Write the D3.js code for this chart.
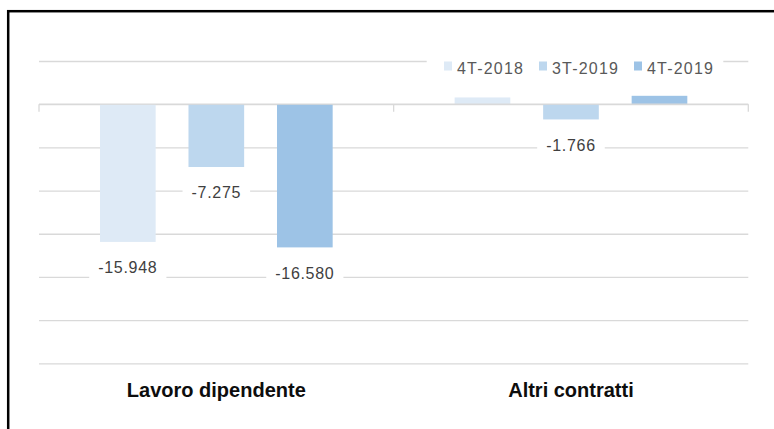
<!DOCTYPE html>
<html><head><meta charset="utf-8">
<script src="https://cdn.jsdelivr.net/npm/d3@7"></script>
<style>body{margin:0;background:#fff}svg{display:block;font-family:"Liberation Sans",Arial,sans-serif}</style>
</head><body>
<svg id="c" width="774" height="429"></svg>
<script>
const categories = ["Lavoro dipendente", "Altri contratti"];
const seriesNames = ["4T-2018", "3T-2019", "4T-2019"];
const values = {
  "4T-2018": [-15948, 780],
  "3T-2019": [-7275, -1766],
  "4T-2019": [-16580, 970]
};
const labelShown = {
  "4T-2018": [true, false],
  "3T-2019": [true, true],
  "4T-2019": [true, false]
};
const yTicks = [5000, 0, -5000, -10000, -15000, -20000, -25000, -30000];
const colors = ["#DEEAF6", "#BDD7EE", "#9DC3E6"];

(function () {
const svg = d3.select("#c");
svg.append("rect").attr("x", 8.2).attr("y", 11.2).attr("width", 900).attr("height", 600)
  .attr("fill", "#fff").attr("stroke", "#000").attr("stroke-width", 2.5);

const pL = 39, pR = 748.3, pT = 61, pB = 363.3;
const y = d3.scaleLinear().domain([-30000, 5000]).range([pB, pT]);
const x = d3.scaleBand().domain(categories).range([pL, pR]).padding(0);
const xs = d3.scaleBand().domain(seriesNames).range([0, x.bandwidth()]).paddingInner(0.371).paddingOuter(0.689);

// gridlines
const grid = svg.append("g").attr("transform", `translate(${pL},0)`)
  .call(d3.axisLeft(y).tickValues(yTicks).tickSize(-(pR - pL)).tickFormat(""));
grid.select(".domain").remove();
grid.selectAll(".tick line").attr("stroke", "#d9d9d9").attr("stroke-width", 1.3);

// bars
const fmt = v => d3.format(",")(v).replace(/,/g, ".").replace("−", "-");
const data = [];
seriesNames.forEach((s, si) => categories.forEach((c, ci) => data.push({s, si, c, v: values[s][ci], show: labelShown[s][ci]})));
svg.append("g").selectAll("rect").data(data).join("rect")
  .attr("x", d => x(d.c) + xs(d.s))
  .attr("width", xs.bandwidth())
  .attr("y", d => y(Math.max(0, d.v)))
  .attr("height", d => Math.abs(y(d.v) - y(0)))
  .attr("fill", d => colors[d.si]);

// zero axis with ticks at category boundaries
const ax = svg.append("g");
ax.append("line").attr("x1", pL).attr("x2", pR).attr("y1", y(0)).attr("y2", y(0))
  .attr("stroke", "#d9d9d9").attr("stroke-width", 1.3);
const bounds = categories.map(c => x(c)).concat([x.range()[1]]);
ax.selectAll("line.t").data(bounds).join("line").attr("class", "t")
  .attr("x1", d => d).attr("x2", d => d).attr("y1", y(0)).attr("y2", y(0) + 7.5)
  .attr("stroke", "#d9d9d9").attr("stroke-width", 1.3);

// data labels
const lab = svg.append("g").selectAll("g").data(data.filter(d => d.show)).join("g")
  .attr("transform", d => `translate(${x(d.c) + xs(d.s) + xs.bandwidth() / 2},${y(d.v) + 25.5})`);
lab.append("text").attr("text-anchor", "middle").attr("dy", "0.36em")
  .attr("font-size", 16).attr("letter-spacing", 0.7).attr("fill", "#404040")
  .text(d => fmt(d.v));
lab.each(function () {
  const g = d3.select(this), bb = g.select("text").node().getBBox();
  g.insert("rect", "text").attr("x", bb.x - 9).attr("y", -12).attr("width", bb.width + 18).attr("height", 24).attr("fill", "#fff");
});

// legend
const lg = svg.append("g");
lg.append("rect").attr("x", 426.7).attr("y", 52).attr("width", 296.6).attr("height", 28).attr("fill", "#fff");
const items = lg.selectAll("g").data(seriesNames).join("g")
  .attr("transform", (d, i) => `translate(${444 + i * 95},0)`);
items.append("rect").attr("x", 0).attr("y", 61.5).attr("width", 8).attr("height", 9).attr("fill", (d, i) => colors[i]);
items.append("text").attr("x", 13).attr("y", 73.8).attr("font-size", 16).attr("letter-spacing", 1.2)
  .attr("fill", "#595959").text(d => d);

// category labels
svg.append("g").selectAll("text").data(categories).join("text")
  .attr("x", d => x(d) + x.bandwidth() / 2).attr("y", 397.3)
  .attr("text-anchor", "middle").attr("font-size", 20).attr("font-weight", "bold").attr("fill", "#0d0d0d")
  .text(d => d);
})();
</script>
</body></html>
